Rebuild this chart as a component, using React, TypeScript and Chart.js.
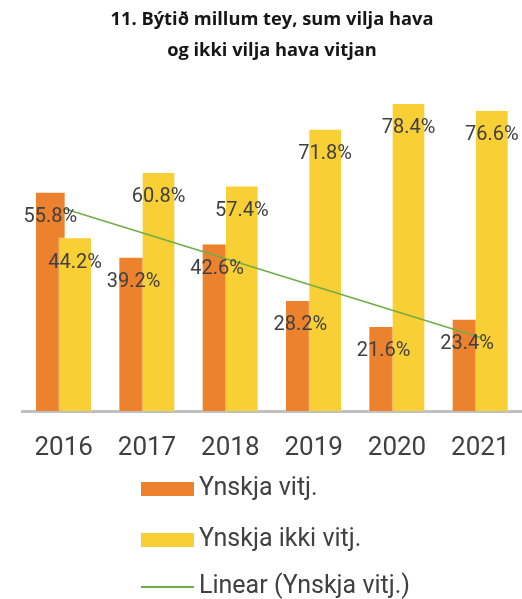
import React, { useEffect, useRef } from "react";
import { Chart, registerables } from "chart.js";

Chart.register(...registerables);

const titleLines = ["11. Býtið millum tey, sum vilja hava", "og ikki vilja hava vitjan"];
const years = ["2016", "2017", "2018", "2019", "2020", "2021"];
const wantVisit = [55.8, 39.2, 42.6, 28.2, 21.6, 23.4];
const notWantVisit = [44.2, 60.8, 57.4, 71.8, 78.4, 76.6];
// trend line values read at the first and last year
const trendValues: (number | null)[] = [51.6, null, null, null, null, 18.7];
const seriesNames = ["Ynskja vitj.", "Ynskja ikki vitj.", "Linear (Ynskja vitj.)"];

const ORANGE = "#ED822E";
const YELLOW = "#F9CF36";
const GREEN = "#70AD47";
const TEXT = "#404040";
const FONT = "Roboto";

const ORANGE_SHIFT = -0.16;
const YELLOW_SHIFT = 0.138;

const labelPlugin = {
  id: "barLabels",
  afterDatasetsDraw(chart: any) {
    const ctx = chart.ctx;
    ctx.save();
    ctx.font = `20px ${FONT}`;
    ctx.fillStyle = TEXT;
    ctx.textAlign = "center";
    ctx.textBaseline = "middle";
    chart.data.datasets.forEach((ds: any, di: number) => {
      if (ds.type === "line") return;
      const meta = chart.getDatasetMeta(di);
      meta.data.forEach((el: any, i: number) => {
        const v = ds.data[i].y as number;
        ctx.fillText(v.toFixed(1) + "%", el.x, el.y + 25);
      });
    });
    ctx.restore();
  },
};

function ChartCanvas() {
  const ref = useRef<HTMLCanvasElement | null>(null);
  useEffect(() => {
    if (!ref.current) return;
    const trendPoints = trendValues
      .map((v, i) => (v === null ? null : { x: i, y: v }))
      .filter((p) => p !== null);
    const chart = new Chart(ref.current, {
      type: "bar",
      data: {
        labels: years,
        datasets: [
          {
            type: "bar",
            label: seriesNames[0],
            data: wantVisit.map((v, i) => ({ x: i + ORANGE_SHIFT, y: v })),
            backgroundColor: ORANGE,
            borderColor: "rgba(255,255,255,0.35)",
            borderWidth: 1,
            barThickness: 30,
            grouped: false,
            xAxisID: "xb",
            order: 2,
          } as any,
          {
            type: "bar",
            label: seriesNames[1],
            data: notWantVisit.map((v, i) => ({ x: i + YELLOW_SHIFT, y: v })),
            backgroundColor: YELLOW,
            borderColor: "rgba(255,255,255,0.35)",
            borderWidth: 1,
            barThickness: 33,
            grouped: false,
            xAxisID: "xb",
            order: 1,
          } as any,
          {
            type: "line",
            label: seriesNames[2],
            data: trendPoints,
            borderColor: GREEN,
            borderWidth: 1.6,
            pointRadius: 0,
            fill: false,
            xAxisID: "xb",
            order: 0,
          } as any,
        ],
      },
      options: {
        responsive: false,
        animation: false,
        events: [],
        layout: { padding: { left: 22, right: 0, top: 0, bottom: 0 } },
        plugins: {
          legend: { display: false },
          tooltip: { enabled: false },
          title: {
            display: true,
            text: titleLines,
            fullSize: false,
            color: "#161616",
            font: { family: "Open Sans", size: 18.3, weight: "bold", lineHeight: 31 / 18.3 },
            padding: { top: 4, bottom: 31 },
          },
        },
        scales: {
          x: {
            type: "category",
            position: "bottom",
            offset: true,
            grid: { display: false, drawTicks: false },
            border: { display: true, color: "#C0C0C0", width: 3 },
            ticks: {
              color: TEXT,
              font: { family: FONT, size: 26, lineHeight: 74 / 26 },
              padding: 0,
              maxRotation: 0,
              autoSkip: false,
            },
          },
          xb: {
            type: "linear",
            position: "bottom",
            display: false,
            offset: false,
            bounds: "data",
            grace: 0,
            min: -0.5,
            max: 5.5,
            afterDataLimits: (scale: any) => {
              scale.min = -0.5;
              scale.max = 5.5;
            },
          },
          y: {
            display: false,
            min: 0,
            max: 80,
          },
        },
      } as any,
      plugins: [labelPlugin],
    });
    return () => chart.destroy();
  }, []);
  return <canvas ref={ref} width={522} height={485} style={{ display: "block" }} />;
}

const legendItems = [
  { name: seriesNames[0], color: ORANGE, kind: "box" },
  { name: seriesNames[1], color: YELLOW, kind: "box" },
  { name: seriesNames[2], color: GREEN, kind: "line" },
];
const legendCenters = [489, 539.5, 586.5];

export default function App() {
  return (
    <div
      style={{
        position: "fixed",
        left: 0,
        top: 0,
        width: 522,
        height: 599,
        overflow: "hidden",
        background: "#fff",
        fontFamily: FONT,
      }}
    >
      <ChartCanvas />
      {legendItems.map((it, i) => (
        <div
          key={it.name}
          style={{
            position: "absolute",
            left: 141,
            top: legendCenters[i] - 12,
            height: 24,
            display: "flex",
            alignItems: "center",
            whiteSpace: "nowrap",
          }}
        >
          <div
            style={{
              width: 53,
              height: it.kind === "box" ? 14 : 2,
              background: it.color,
              flex: "none",
            }}
          />
          <span
            style={{
              marginLeft: 5,
              fontSize: 25,
              lineHeight: "24px",
              color: TEXT,
              position: "relative",
              top: -2,
            }}
          >
            {it.name}
          </span>
        </div>
      ))}
    </div>
  );
}
